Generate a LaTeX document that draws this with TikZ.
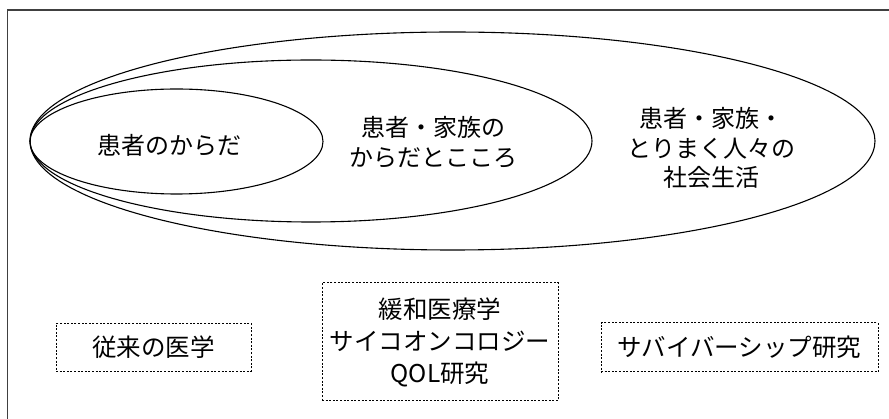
\documentclass[tikz,border=0pt]{standalone}
\usepackage{fontspec}
\newfontfamily\jp{Noto Sans CJK JP}
\begin{document}
\begin{tikzpicture}[x=1pt,y=-1pt,
  ring/.style={draw=black,line width=1.1pt},
  frameline/.style={draw=black!75,line width=1.3pt},
  label/.style={font=\jp\fontsize{24}{29.5}\selectfont,align=center,inner sep=0pt},
  dbox/.style={draw=black,line width=1pt,dash pattern=on 2pt off 1.6pt,inner sep=0pt,
    font=\jp\fontsize{24.5}{32}\selectfont,align=center}]
\useasboundingbox (0,0) rectangle (889,419);
% frame (top and left edges)
\coordinate (ftl) at (7.5,10);
\coordinate (ftr) at (889,10);
\coordinate (fbl) at (7.5,419);
\draw[frameline] (ftr) -- (ftl) -- (fbl);
% nested ellipses
\draw[ring] (452.5,141) ellipse [x radius=422.5, y radius=109];
\draw[ring] (311,141) ellipse [x radius=281, y radius=81];
\draw[ring] (176.5,141.5) ellipse [x radius=146.5, y radius=52.5];
% ellipse labels
\node[label] (body) at (169,145) {患者のからだ};
\node[label] (mind) at (433,142) {患者・家族の\\からだとこころ};
\node[label] (social) at (711,148) {患者・家族・\\とりまく人々の\\社会生活};
% dashed boxes
\node[dbox,minimum width=195pt,minimum height=48pt] (trad) at (153.5,347.5) {従来の医学};
\node[dbox,minimum width=236pt,minimum height=118pt] (pall) at (440,342) {緩和医療学\\サイコオンコロジー\\QOL研究};
\node[dbox,minimum width=277pt,minimum height=49pt] (surv) at (739.5,347.5) {サバイバーシップ研究};
\end{tikzpicture}
\end{document}
